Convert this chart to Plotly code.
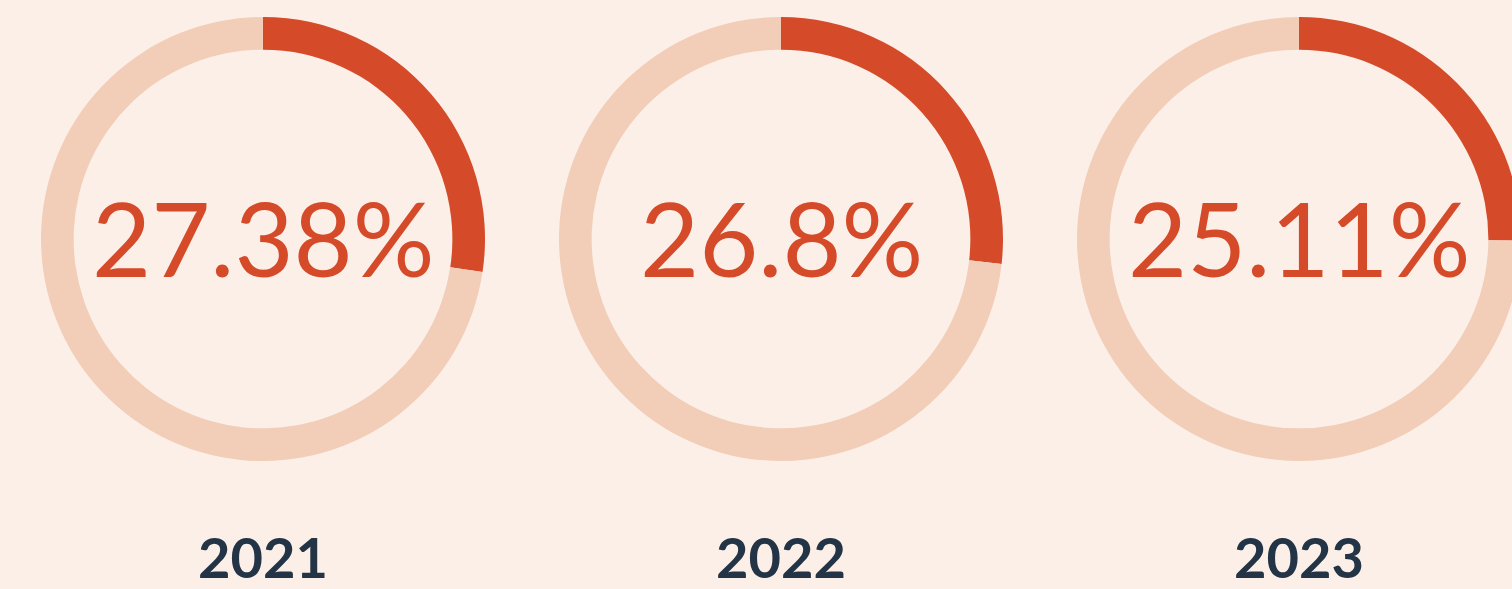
import plotly.graph_objects as go

years = ["2021", "2022", "2023"]
shares = [27.38, 26.8, 25.11]
labels = ["27.38%", "26.8%", "25.11%"]

BG = "#FCEFE7"
RED = "#D54A29"
LIGHT = "#F2CDB7"
NAVY = "#233446"

W, H = 1560, 589
VIEW_W = 1512
R = 222
CY = 239
centers = [263, 781, 1299]

fig = go.Figure()
for i, (yr, v) in enumerate(zip(years, shares)):
    cx = centers[i]
    fig.add_trace(go.Pie(
        values=[v, 100 - v],
        labels=["share", "rest"],
        sort=False,
        direction="clockwise",
        rotation=0,
        hole=0.853,
        marker=dict(colors=[RED, LIGHT], line=dict(width=0)),
        textinfo="none",
        hoverinfo="skip",
        showlegend=False,
        domain=dict(x=[(cx - R) / W, (cx + R) / W],
                    y=[(H - CY - R) / H, (H - CY + R) / H]),
    ))
    fig.add_annotation(x=cx / W, y=(H - 237) / H, xref="paper", yref="paper",
                       text=labels[i], showarrow=False, xanchor="center", yanchor="middle",
                       font=dict(family="Lato", size=102, color=RED))
    fig.add_annotation(x=cx / W, y=(H - 556) / H, xref="paper", yref="paper",
                       text="<b>%s</b>" % yr, showarrow=False, xanchor="center", yanchor="middle",
                       font=dict(family="Lato", size=56, color=NAVY))

fig.update_layout(width=W, height=H, margin=dict(l=0, r=0, t=0, b=0),
                  paper_bgcolor=BG, plot_bgcolor=BG, showlegend=False)

post = ("document.body.style.margin='0';document.body.style.overflow='hidden';"
        "document.body.style.background='%s';"
        "var gd=document.getElementById('{plot_id}');"
        "gd.parentElement.style.width='%dpx';gd.parentElement.style.overflow='hidden';") % (BG, VIEW_W)
fig.write_html("out.html", config={"displayModeBar": False}, post_script=post)
